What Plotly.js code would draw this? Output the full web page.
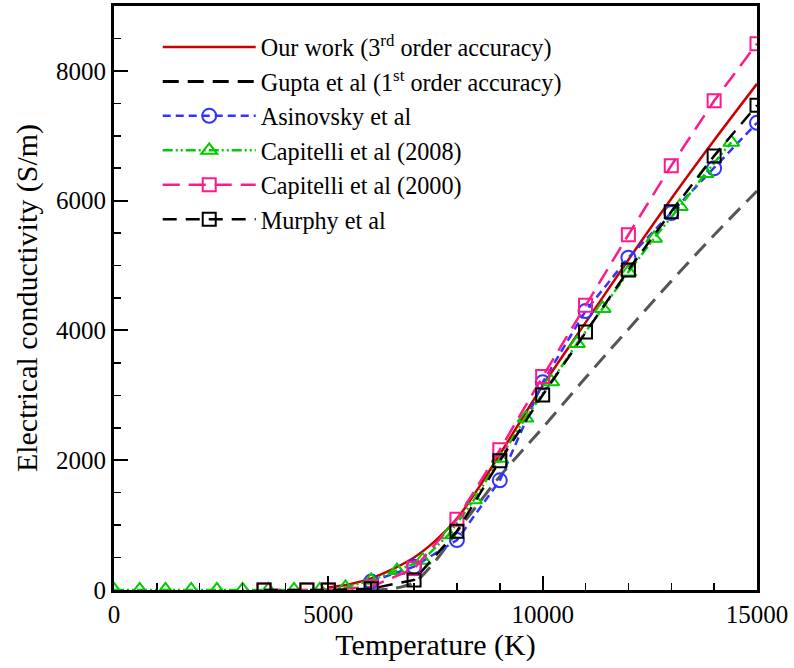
<!DOCTYPE html>
<html>
<head>
<meta charset="utf-8">
<script src="https://cdn.plot.ly/plotly-3.0.1.min.js"></script>
<style>html,body{margin:0;padding:0;background:#fff;}#chart{width:794px;height:668px;}</style>
</head>
<body>
<div id="chart"></div>
<script>
// Our work (3rd order accuracy)
const ourT = [5000, 5500, 6000, 6500, 7000, 7500, 8000, 8500, 9000, 9500, 10000, 11000, 12000, 13000, 14000, 15000];
const ourS = [40, 90, 180, 320, 500, 760, 1100, 1570, 2090, 2620, 3150, 4120, 5090, 6030, 6930, 7800];
// Gupta et al (1st order accuracy)
const guptaT = [6000, 6500, 7000, 7500, 8000, 8500, 9000, 9500, 10000, 11000, 12000, 13000, 14000, 15000];
const guptaS = [0, 20, 120, 450, 900, 1330, 1750, 2130, 2500, 3270, 4020, 4760, 5470, 6150];
// Asinovsky et al
const asinT = [6000, 7000, 8000, 9000, 10000, 11000, 12000, 13000, 14000, 15000];
const asinS = [130, 360, 770, 1690, 3200, 4300, 5120, 5810, 6500, 7200];
// Capitelli et al (2008)
const cap08T = [0, 600, 1200, 1800, 2400, 3000, 3600, 4200, 4800, 5400, 6000, 6600, 7200, 7800, 8400, 9000, 9600, 10200, 10800, 11400, 12000, 12600, 13200, 13800, 14400];
const cap08S = [0, 0, 0, 0, 0, 0, 0, 0, 0, 40, 150, 300, 460, 850, 1390, 2030, 2650, 3210, 3800, 4340, 4900, 5420, 5910, 6420, 6900];
// Capitelli et al (2000)
const cap00T = [3500, 4500, 5000, 6000, 7000, 8000, 9000, 10000, 11000, 12000, 13000, 14000, 15000];
const cap00S = [0, 0, 0, 50, 330, 1090, 2160, 3290, 4390, 5475, 6540, 7540, 8420];
// Murphy et al
const murT = [3500, 4500, 5000, 6000, 7000, 8000, 9000, 10000, 11000, 12000, 13000, 14000, 15000];
const murS = [0, 0, 0, 20, 155, 905, 1990, 3005, 3975, 4930, 5830, 6690, 7470];

const names = [
  'Our work (3<sup>rd</sup> order accuracy)',
  'Gupta et al (1<sup>st</sup> order accuracy)',
  'Asinovsky et al',
  'Capitelli et al (2008)',
  'Capitelli et al (2000)',
  'Murphy et al'
];

const traces = [
  {x: ourT, y: ourS, name: names[0], mode: 'lines', line: {color: '#cc0000', width: 2.5, shape: 'spline'}},
  {x: [null], y: [null], name: names[1], mode: 'lines', line: {color: '#000000', width: 3, dash: '16px,9px'}},
  {x: guptaT, y: guptaS, name: names[1], mode: 'lines', showlegend: false, line: {color: '#555555', width: 3, dash: '16px,9px', shape: 'spline'}},
  {x: asinT, y: asinS, name: names[2], mode: 'lines+markers', line: {color: '#3333ff', width: 2.5, dash: '8px,5px'},
   marker: {symbol: 'circle-open', size: 14, color: '#3333ff', line: {width: 2, color: '#3333ff'}}},
  {x: cap08T, y: cap08S, name: names[3], mode: 'lines+markers', line: {color: '#00cc00', width: 2.5, dash: '10px,3px,2px,3px,2px,3px'},
   marker: {symbol: 'triangle-up-open', size: 14, color: '#00cc00', line: {width: 2, color: '#00cc00'}}},
  {x: cap00T, y: cap00S, name: names[4], mode: 'lines+markers', line: {color: '#ff1a8c', width: 2.5, dash: '17px,9px'},
   marker: {symbol: 'square-open', size: 13, color: '#ff1a8c', line: {width: 2, color: '#ff1a8c'}}},
  {x: murT, y: murS, name: names[5], mode: 'lines+markers', line: {color: '#000000', width: 2.5, dash: '14px,9px'},
   marker: {symbol: 'square-open', size: 13, color: '#000000', line: {width: 2, color: '#000000'}}}
];

const font = 'Liberation Serif';
const layout = {
  width: 794, height: 668,
  margin: {l: 114, r: 37, t: 6, b: 78},
  paper_bgcolor: '#ffffff', plot_bgcolor: '#ffffff',
  font: {family: font, size: 25, color: '#000'},
  showlegend: true,
  legend: {x: 0.068, y: 0.968, xanchor: 'left', yanchor: 'top', bgcolor: 'rgba(0,0,0,0)',
    font: {family: font, size: 24.2, color: '#000'}, itemwidth: 93, tracegroupgap: 0},
  xaxis: {
    range: [0, 15000], title: {text: 'Temperature (K)', font: {family: font, size: 30}, standoff: 4},
    tickvals: [0, 5000, 10000, 15000], ticktext: ['0', '5000', '10000', '15000'],
    ticks: 'inside', ticklen: 14, tickwidth: 2, tickcolor: '#000',
    minor: {dtick: 1000, ticks: 'inside', ticklen: 7, tickwidth: 1.5, tickcolor: '#000', showgrid: false},
    showline: true, linewidth: 3, linecolor: '#000', mirror: true,
    showgrid: false, zeroline: false, tickfont: {family: font, size: 25}
  },
  yaxis: {
    range: [0, 9000], title: {text: 'Electrical conductivity (S/m)', font: {family: font, size: 30}, standoff: 10},
    tickvals: [0, 2000, 4000, 6000, 8000], ticktext: ['0', '2000', '4000', '6000', '8000'],
    ticks: 'inside', ticklen: 14, tickwidth: 2, tickcolor: '#000',
    minor: {dtick: 500, ticks: 'inside', ticklen: 7, tickwidth: 1.5, tickcolor: '#000', showgrid: false},
    showline: true, linewidth: 3, linecolor: '#000', mirror: true,
    showgrid: false, zeroline: false, tickfont: {family: font, size: 25}
  }
};

Plotly.newPlot('chart', traces, layout, {displayModeBar: false, staticPlot: true});
</script>
</body>
</html>
